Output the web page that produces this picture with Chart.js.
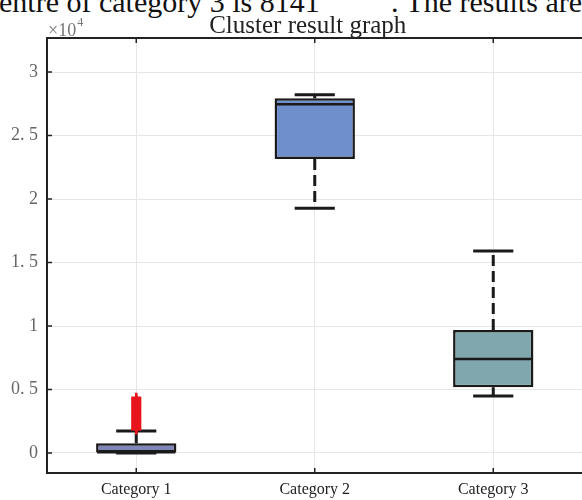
<!DOCTYPE html>
<html>
<head>
<meta charset="utf-8">
<script src="https://cdn.jsdelivr.net/npm/chart.js@4.4.0/dist/chart.umd.min.js"></script>
<style>
  html, body { margin: 0; padding: 0; background: #fff; overflow: hidden; width: 582px; height: 500px; }
  #wrap { position: relative; width: 582px; height: 500px; overflow: hidden; }
  #boxChart { position: absolute; left: 0; top: 0; }
  .doc { position: absolute; top: -15px; font-family: "Liberation Serif", serif; font-size: 30px; color: #111; white-space: nowrap; }
</style>
</head>
<body>
<div id="wrap">
  <div class="doc" style="left:-1px;">entre of category 3 is 8141</div>
  <div class="doc" style="right:0;">. The results are</div>
  <canvas id="boxChart" width="590" height="500"></canvas>
</div>
<script>
// box plot data
var categories = ['Category 1', 'Category 2', 'Category 3']
var lowerWhisker = [0, 19270, 4490]
var quartile1 = [0, 23150, 5170]
var medians = [60, 27460, 7400]
var quartile3 = [760, 27930, 9690]
var upperWhisker = [1730, 28210, 15900]
// red + outliers of category 1
var outliers1 = [1850, 1980, 2120, 2260, 2400, 2540, 2680, 2820, 2960, 3100, 3240, 3380, 3520, 3660, 3800, 3940, 4080, 4220, 4360]
var yTicks = [0, 5000, 10000, 15000, 20000, 25000, 30000]

var boxColors = ['#7f85b5', '#6f8fcc', '#7fa7ad']
var lineColor = '#1a1a1a'

var boxData = categories.map(function(c, i) { return [quartile1[i], quartile3[i]] })
var outlierData = outliers1.map(function(v) { return { x: categories[0], y: v } })

var boxPlot = {
    id: 'boxPlot',
    afterDatasetDraw: function(chart, args) {
        if (args.index !== 1) return
        var ctx = chart.ctx
        var xs = chart.scales.x
        var ys = chart.scales.y
        var meta = chart.getDatasetMeta(1)
        ctx.save()
        ctx.strokeStyle = lineColor
        for (var i = 0; i < categories.length; i++) {
            var x = xs.getPixelForValue(i)
            var half = meta.data[i].width / 2
            var capHalf = half * 0.5
            // whiskers (dashed)
            ctx.lineWidth = 3
            ctx.setLineDash([11, 5])
            ctx.beginPath()
            ctx.moveTo(x, ys.getPixelForValue(quartile3[i]))
            ctx.lineTo(x, ys.getPixelForValue(upperWhisker[i]))
            ctx.moveTo(x, ys.getPixelForValue(quartile1[i]))
            ctx.lineTo(x, ys.getPixelForValue(lowerWhisker[i]))
            ctx.stroke()
            ctx.setLineDash([])
            // caps
            ctx.beginPath()
            var yu = ys.getPixelForValue(upperWhisker[i])
            var yl = ys.getPixelForValue(lowerWhisker[i])
            ctx.moveTo(x - capHalf, yu); ctx.lineTo(x + capHalf, yu)
            ctx.moveTo(x - capHalf, yl); ctx.lineTo(x + capHalf, yl)
            ctx.stroke()
            // median
            ctx.lineWidth = 2.5
            var ym = ys.getPixelForValue(medians[i])
            ctx.beginPath()
            ctx.moveTo(x - half + 1, ym); ctx.lineTo(x + half - 1, ym)
            ctx.stroke()
        }
        ctx.restore()
    },
    afterDraw: function(chart) {
        var ctx = chart.ctx
        var a = chart.chartArea
        var xs = chart.scales.x
        var ys = chart.scales.y
        ctx.save()
        ctx.strokeStyle = '#222'
        ctx.lineWidth = 2
        // top frame
        ctx.beginPath()
        ctx.moveTo(a.left - 1, a.top)
        ctx.lineTo(a.right, a.top)
        ctx.stroke()
        // inward tick marks
        ctx.lineWidth = 1.5
        ctx.beginPath()
        yTicks.forEach(function(v) {
            var y = ys.getPixelForValue(v)
            ctx.moveTo(a.left, y); ctx.lineTo(a.left + 5, y)
        })
        categories.forEach(function(c, i) {
            var x = xs.getPixelForValue(i)
            ctx.moveTo(x, a.top); ctx.lineTo(x, a.top + 5)
            ctx.moveTo(x, a.bottom); ctx.lineTo(x, a.bottom - 5)
        })
        ctx.stroke()
        // title
        ctx.fillStyle = '#222'
        ctx.font = '25px "Liberation Serif", serif'
        ctx.textAlign = 'center'
        ctx.textBaseline = 'alphabetic'
        ctx.fillText('Cluster result graph', (a.left + a.right) / 2 - 7, 33)
        // exponent
        ctx.fillStyle = '#777'
        ctx.textAlign = 'left'
        ctx.font = '18px "Liberation Serif", serif'
        ctx.fillText('\u00d710', a.left + 1, 36)
        var w = ctx.measureText('\u00d710').width
        ctx.font = '12px "Liberation Serif", serif'
        ctx.fillText('4', a.left + 1 + w + 1, 26)
        ctx.restore()
    }
}

var ctx = document.getElementById('boxChart').getContext('2d')
var boxChart = new Chart(ctx, {
    type: 'bar',
    data: {
        labels: categories,
        datasets: [{
            type: 'line',
            label: 'Outliers',
            data: outlierData,
            showLine: false,
            pointStyle: 'cross',
            pointRadius: 5,
            pointBorderWidth: 2.5,
            borderColor: '#e8141c',
            backgroundColor: '#e8141c',
            order: 1
        }, {
            label: 'Box',
            data: boxData,
            backgroundColor: boxColors,
            borderColor: lineColor,
            borderWidth: 2.5,
            borderSkipped: false,
            categoryPercentage: 1,
            barPercentage: 0.45,
            order: 2
        }]
    },
    options: {
        responsive: false,
        animation: false,
        devicePixelRatio: 1,
        layout: { padding: { top: 38, left: 0, right: 0, bottom: 0 } },
        scales: {
            x: {
                offset: true,
                grid: { offset: false, color: '#e6e6e6', lineWidth: 1, drawTicks: false },
                border: { display: true, color: '#222', width: 2 },
                ticks: {
                    color: '#222',
                    padding: 7,
                    maxRotation: 0,
                    font: { family: '"Liberation Serif", serif', size: 16 }
                },
                afterFit: function(scale) { scale.height = 27 }
            },
            y: {
                min: -1575,
                max: 32680,
                grid: { color: '#e6e6e6', lineWidth: 1, drawTicks: false },
                border: { display: true, color: '#222', width: 2 },
                ticks: {
                    color: '#666',
                    padding: 9,
                    font: { family: '"Liberation Serif", serif', size: 18 },
                    callback: function(v) { return String(v / 10000).replace('.', '. ') }
                },
                afterBuildTicks: function(scale) {
                    scale.ticks = yTicks.map(function(v) { return { value: v } })
                },
                afterFit: function(scale) { scale.width = 47 }
            }
        },
        plugins: {
            legend: { display: false },
            title: { display: false },
            tooltip: { enabled: false }
        }
    },
    plugins: [boxPlot]
})
</script>
</body>
</html>
